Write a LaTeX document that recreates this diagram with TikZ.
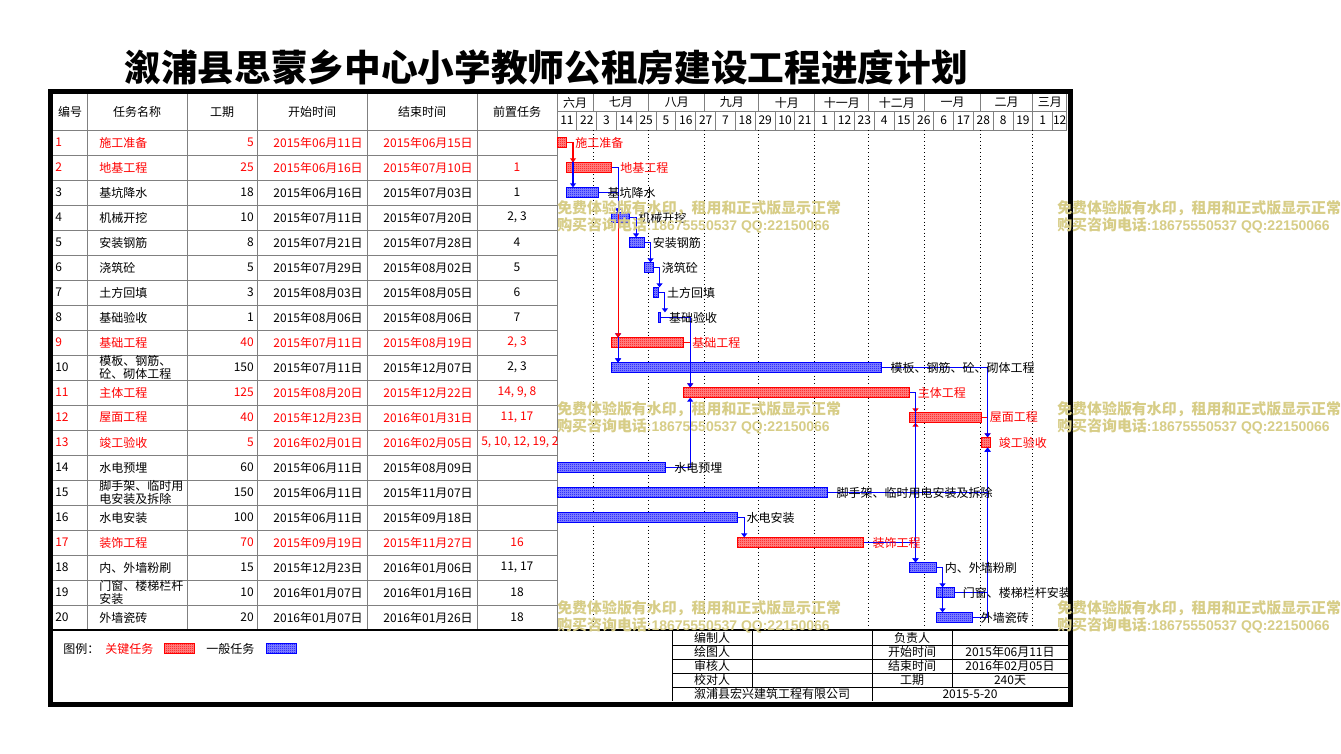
\documentclass[tikz,border=0pt]{standalone}
\usepackage{fontspec}
\setmainfont{Noto Sans CJK SC}
\newfontfamily\latinfont{Liberation Sans}
\usetikzlibrary{arrows.meta,positioning,patterns}
\pgfdeclarepatternformonly{finechecker}{\pgfqpoint{0pt}{0pt}}{\pgfqpoint{1.5pt}{1.5pt}}{\pgfqpoint{1.5pt}{1.5pt}}{%
  \pgfpathrectangle{\pgfqpoint{0pt}{0pt}}{\pgfqpoint{0.75pt}{0.75pt}}%
  \pgfpathrectangle{\pgfqpoint{0.75pt}{0.75pt}}{\pgfqpoint{0.75pt}{0.75pt}}%
  \pgfusepath{fill}}
\definecolor{gridgray}{RGB}{128,128,128}
\definecolor{wmark}{RGB}{215,205,135}
\newcommand{\linkgap}{5.25pt}
\tikzset{
    >={Triangle[length=3pt,width=4.5pt]},
    every node/.style={font=\fontsize{9}{9.5}\selectfont,inner sep=0pt},
    cell/.style={draw=gridgray,line width=0.75pt},
    crit bar/.style={draw=red,line width=0.75pt,preaction={fill=red!45},pattern=finechecker,pattern color=red,minimum height=7pt,anchor=west},
    norm bar/.style={draw=blue,line width=0.75pt,preaction={fill=blue!45},pattern=finechecker,pattern color=blue,minimum height=7pt,anchor=west},
    critlink/.style={draw=red,line width=0.8pt,->},
    normlink/.style={draw=blue,line width=0.8pt,->},
    wm/.style={text=wmark,font=\fontsize{11.2}{12}\selectfont\bfseries,anchor=west}
}
\begin{document}
\begin{tikzpicture}[x=0.75pt,y=-0.75pt]
    \useasboundingbox (0,0) rectangle (1341,753);
    \fill[white] (0,0) rectangle (1341,753);

    % title
    \node[font=\fontsize{27.5}{30}\selectfont\bfseries] (title) at (546,68) {溆浦县思蒙乡中心小学教师公租房建设工程进度计划};

    % table grid
    \foreach \x in {87,187,257,367,477,557}
        \draw[cell] (\x,94) -- (\x,630);
    \foreach \i in {1,...,19}
        \draw[cell] (53,{130+25*\i}) -- (557,{130+25*\i});
    \draw[cell] (53,130) -- (1066.7,130);
    \draw[cell] (557,111) -- (1066.7,111);
    \draw[cell] (1066.7,94) -- (1066.7,130);
    \foreach \a in {20,51,82,112,143,173,204,235,264} {
        \draw[cell] ({557+1.8025*\a},94) -- ({557+1.8025*\a},111);
        \draw[dotted,line width=0.75pt] ({557+1.8025*\a},130) -- ({557+1.8025*\a},630);
    }
    \foreach \k in {1,...,25}
        \draw[cell] ({557+1.8025*11*\k},111) -- ({557+1.8025*11*\k},130);

    % header
    \node (h1) at (70,112) {编号};
    \node (h2) at (137,112) {任务名称};
    \node (h3) at (222,112) {工期};
    \node (h4) at (312,112) {开始时间};
    \node (h5) at (422,112) {结束时间};
    \node (h6) at (517,112) {前置任务};
    \foreach \m/\a/\b [count=\i] in {六月/0/20,七月/20/51,八月/51/82,九月/82/112,十月/112/143,十一月/143/173,十二月/173/204,一月/204/235,二月/235/264,三月/264/282.8}
        \node (mon\i) at ({557+1.8025*(\a+\b)/2},102.5) {\m};
    \foreach \d [count=\k from 0] in {11,22,3,14,25,5,16,27,7,18,29,10,21,1,12,23,4,15,26,6,17,28,8,19,1,12}
        \node (day\k) at ({min(557+1.8025*(11*\k+5.5),1059.7)},120.5) {\d};

    % table rows
    \foreach \n/\name/\dur/\st/\en/\pre/\c in {
        1/施工准备/5/2015年06月11日/2015年06月15日/{}/red,
        2/地基工程/25/2015年06月16日/2015年07月10日/1/red,
        3/基坑降水/18/2015年06月16日/2015年07月03日/1/black,
        4/机械开挖/10/2015年07月11日/2015年07月20日/{2, 3}/black,
        5/安装钢筋/8/2015年07月21日/2015年07月28日/4/black,
        6/浇筑砼/5/2015年07月29日/2015年08月02日/5/black,
        7/土方回填/3/2015年08月03日/2015年08月05日/6/black,
        8/基础验收/1/2015年08月06日/2015年08月06日/7/black,
        9/基础工程/40/2015年07月11日/2015年08月19日/{2, 3}/red,
        10/{模板、钢筋、\\砼、砌体工程}/150/2015年07月11日/2015年12月07日/{2, 3}/black,
        11/主体工程/125/2015年08月20日/2015年12月22日/{14, 9, 8}/red,
        12/屋面工程/40/2015年12月23日/2016年01月31日/{11, 17}/red,
        13/竣工验收/5/2016年02月01日/2016年02月05日/{}/red,
        14/水电预埋/60/2015年06月11日/2015年08月09日/{}/black,
        15/{脚手架、临时用\\电安装及拆除}/150/2015年06月11日/2015年11月07日/{}/black,
        16/水电安装/100/2015年06月11日/2015年09月18日/{}/black,
        17/装饰工程/70/2015年09月19日/2015年11月27日/16/red,
        18/内、外墙粉刷/15/2015年12月23日/2016年01月06日/{11, 17}/black,
        19/{门窗、楼梯栏杆\\安装}/10/2016年01月07日/2016年01月16日/18/black,
        20/外墙瓷砖/20/2016年01月07日/2016年01月26日/18/black} {
        \node[anchor=west,text=\c] (id\n) at (55,{117.5+25*\n}) {\n};
        \node[anchor=west,align=left,text=\c] (nm\n) at (99,{117.5+25*\n}) {\name};
        \node[anchor=east,text=\c] (du\n) at (254,{117.5+25*\n}) {\dur};
        \node[anchor=east,text=\c] (st\n) at (363,{117.5+25*\n}) {\st};
        \node[anchor=east,text=\c] (en\n) at (473,{117.5+25*\n}) {\en};
        \node[text=\c] (pr\n) at (517,{117.5+25*\n}) {\pre};
    }
    \begin{scope}
        \clip (477,430) rectangle (557,455);
        \node[anchor=west,text=red] (pr13b) at (481,442.5) {5, 10, 12, 19, 20};
    \end{scope}

    % bars
    \foreach \n/\s/\d/\k in {1/0/5/crit,2/5/25/crit,3/5/18/norm,4/30/10/norm,5/40/8/norm,
        6/48/5/norm,7/53/3/norm,8/56/1/norm,9/30/40/crit,10/30/150/norm,11/70/125/crit,
        12/195/40/crit,13/235/5/crit,14/0/60/norm,15/0/150/norm,16/0/100/norm,
        17/100/70/crit,18/195/15/norm,19/210/10/norm,20/210/20/norm}
        \node[\k\space bar,minimum width={\d*1.351875pt}] (b\n) at ({557+1.8025*\s},{117.5+25*\n}) {};

    % links
    \draw[normlink] (b1.east) -| ([xshift=\linkgap]b3.north west);
    \draw[critlink] (b1.east) -| ([xshift=\linkgap]b2.north west);
    \draw[normlink] (b2.east) -| ([xshift=\linkgap]b10.north west);
    \draw[normlink] (b3.east) -| ([xshift=\linkgap]b10.north west);
    \draw[normlink] (b3.east) -| ([xshift=\linkgap]b9.north west);
    \draw[critlink] (b2.east) -| ([xshift=\linkgap]b9.north west);
    \draw[normlink] (b2.east) -| ([xshift=\linkgap]b4.north west);
    \draw[normlink] (b3.east) -| ([xshift=\linkgap]b4.north west);
    \draw[normlink] (b4.east) -| ([xshift=\linkgap]b5.north west);
    \draw[normlink] (b5.east) -| ([xshift=\linkgap]b6.north west);
    \draw[normlink] (b6.east) -| ([xshift=\linkgap]b7.north west);
    \draw[normlink] (b7.east) -| ([xshift=\linkgap]b8.north west);
    \draw[critlink] (b9.east) -| ([xshift=\linkgap]b11.north west);
    \draw[normlink] (b8.east) -| ([xshift=\linkgap]b11.north west);
    \draw[normlink] (b14.east) -| ([xshift=\linkgap]b11.south west);
    \draw[critlink] (b11.east) -| ([xshift=\linkgap]b12.north west);
    \draw[critlink] (b17.east) -| ([xshift=\linkgap]b12.south west);
    \draw[normlink] (b11.east) -| ([xshift=\linkgap]b18.north west);
    \draw[normlink] (b17.east) -| ([xshift=\linkgap]b18.north west);
    \draw[normlink] (b16.east) -| ([xshift=\linkgap]b17.north west);
    \draw[critlink] (b12.east) -| ([xshift=\linkgap]b13.north west);
    \draw[normlink] (b10.east) -| ([xshift=\linkgap]b13.north west);
    \draw[normlink] (b15.east) -| ([xshift=\linkgap]b13.south west);
    \draw[normlink] (b19.east) -| ([xshift=\linkgap]b13.south west);
    \draw[normlink] (b20.east) -| ([xshift=\linkgap]b13.south west);
    \draw[normlink] (b18.east) -| ([xshift=\linkgap]b19.north west);
    \draw[normlink] (b18.east) -| ([xshift=\linkgap]b20.north west);

    % bar labels
    \foreach \n/\t/\c in {1/施工准备/red,2/地基工程/red,3/基坑降水/black,4/机械开挖/black,
        5/安装钢筋/black,6/浇筑砼/black,7/土方回填/black,8/基础验收/black,9/基础工程/red,
        10/模板、钢筋、砼、砌体工程/black,11/主体工程/red,12/屋面工程/red,13/竣工验收/red,
        14/水电预埋/black,15/脚手架、临时用电安装及拆除/black,16/水电安装/black,
        17/装饰工程/red,18/内、外墙粉刷/black,19/门窗、楼梯栏杆安装/black,20/外墙瓷砖/black}
        \node[anchor=west,text=\c] (t\n) at ([xshift=6pt]b\n.east) {\t};

    % legend
    \draw[line width=1.2pt] (53,630) -- (1068,630);
    \node[anchor=west] (lg) at (63,649) {图例：};
    \node[anchor=west,text=red] (lgc) at (105,649) {关键任务};
    \node[crit bar,minimum width=22.5pt] (lgcb) at (164,648.5) {};
    \node[anchor=west] (lgn) at (206,649) {一般任务};
    \node[norm bar,minimum width=22.5pt] (lgnb) at (266,648.5) {};

    % sign-off box
    \draw[line width=0.75pt] (672,630) -- (672,701);
    \foreach \y in {645,659.3,673.3,687.3}
        \draw[line width=0.75pt] (672,\y) -- (1068,\y);
    \draw[line width=0.75pt] (752,630) -- (752,687.3);
    \draw[line width=0.75pt] (872,630) -- (872,701);
    \draw[line width=0.75pt] (952,630) -- (952,687.3);
    \foreach \i/\a/\b/\c in {1/编制人/负责人/{},2/绘图人/开始时间/2015年06月11日,
        3/审核人/结束时间/2016年02月05日,4/校对人/工期/240天} {
        \node (sa\i) at (712,{623.5+14.2*\i}) {\a};
        \node (sb\i) at (912,{623.5+14.2*\i}) {\b};
        \node (sc\i) at (1010,{623.5+14.2*\i}) {\c};
    }
    \node (co) at (772,694) {溆浦县宏兴建筑工程有限公司};
    \node (dt) at (970,694) {2015-5-20};

    % frame
    \draw[line width=3.75pt] (50.5,91.5) rectangle (1070.5,704);

    % watermark
    \foreach \wx in {557,1057}
        \foreach \wy in {208,409,608} {
            \node[wm] (wa\wx-\wy) at (\wx,\wy) {免费体验版有水印，租用和正式版显示正常};
            \node[wm] (wb\wx-\wy) at (\wx,\wy+17) {购买咨询电话{\latinfont\fontsize{10.5}{12}\selectfont:18675550537 QQ:22150066}};
        }
\end{tikzpicture}
\end{document}
